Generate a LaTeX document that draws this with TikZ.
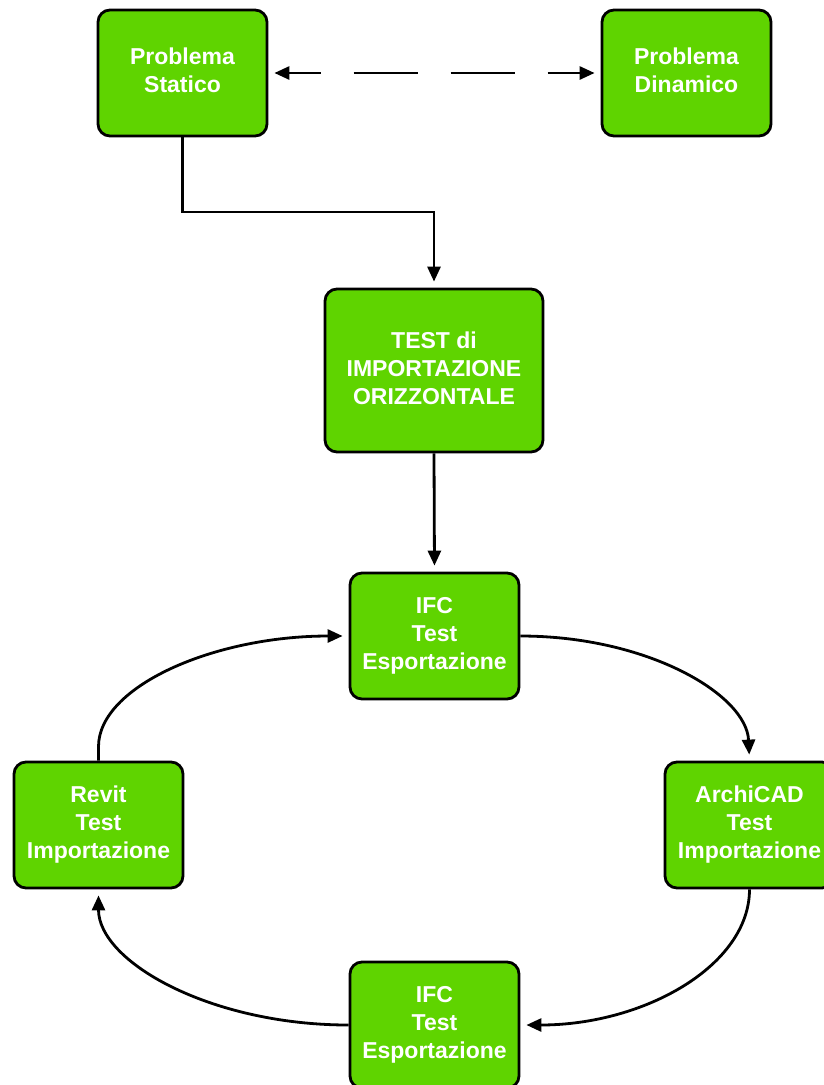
\documentclass[tikz,border=0pt]{standalone}
\usepackage{fontspec}
\setmainfont{Liberation Sans}
\usetikzlibrary{arrows.meta}
\definecolor{boxgreen}{HTML}{5FD400}
\newcommand{\dstrut}{\rule[-5.5pt]{0pt}{5.5pt}}
\tikzset{
  box/.style={draw=black, line width=2.8pt, fill=boxgreen, rounded corners=12pt,
    minimum width=169pt, minimum height=126pt, inner sep=0pt, align=center,
    text=white, font=\fontsize{23}{28}\selectfont\bfseries},
  tip/.style={},
  conn/.style={line width=2.8pt, draw=black, -{Triangle[length=15pt,width=13pt]}, shorten >=6pt},
  dconn/.style={line width=2.8pt, draw=black, {Triangle[length=15pt,width=13pt]}-{Triangle[length=15pt,width=13pt]},
    shorten >=6pt, shorten <=6pt, dash pattern=on 64pt off 33pt, dash phase=32pt}
}
\begin{document}
\begin{tikzpicture}[x=1pt,y=-1pt]
\useasboundingbox (0,0) rectangle (824,1085);
\clip (0,0) rectangle (824,1085);
\node[box] (stat) at (182.5,73) {Problema\\Statico\dstrut};
\node[box] (dyn) at (686.5,73) {Problema\\Dinamico\dstrut};
\node[box, minimum width=218pt, minimum height=163pt] (test) at (434,370.5) {TEST di\\IMPORTAZIONE\\ORIZZONTALE\dstrut};
\node[box] (ifc1) at (434.5,636) {IFC\\Test\\Esportazione};
\node[box] (rev) at (98.5,825) {Revit\\Test\\Importazione};
\node[box] (arch) at (749.5,825) {ArchiCAD\\Test\\Importazione};
\node[box] (ifc2) at (434.5,1025) {IFC\\Test\\Esportazione};
\coordinate (elb) at (434,212);
\draw[dconn] (stat.east) -- (dyn.west);
\draw[conn] (stat.south) |- (elb) -- (test.north);
\draw[conn] (test.south) -- (ifc1.north);
\draw[conn] (ifc1.east) .. controls +(127,0) and +(-3,-66) .. (arch.north);
\draw[conn] (arch.south) .. controls +(0,76) and +(124,0) .. (ifc2.east);
\draw[conn] (ifc2.west) .. controls +(-139,0) and +(0,72) .. (rev.south);
\draw[conn] (rev.north) -- ++(0,-14) .. controls +(0,-60) and +(-135,0) .. (ifc1.west);
\end{tikzpicture}
\end{document}
